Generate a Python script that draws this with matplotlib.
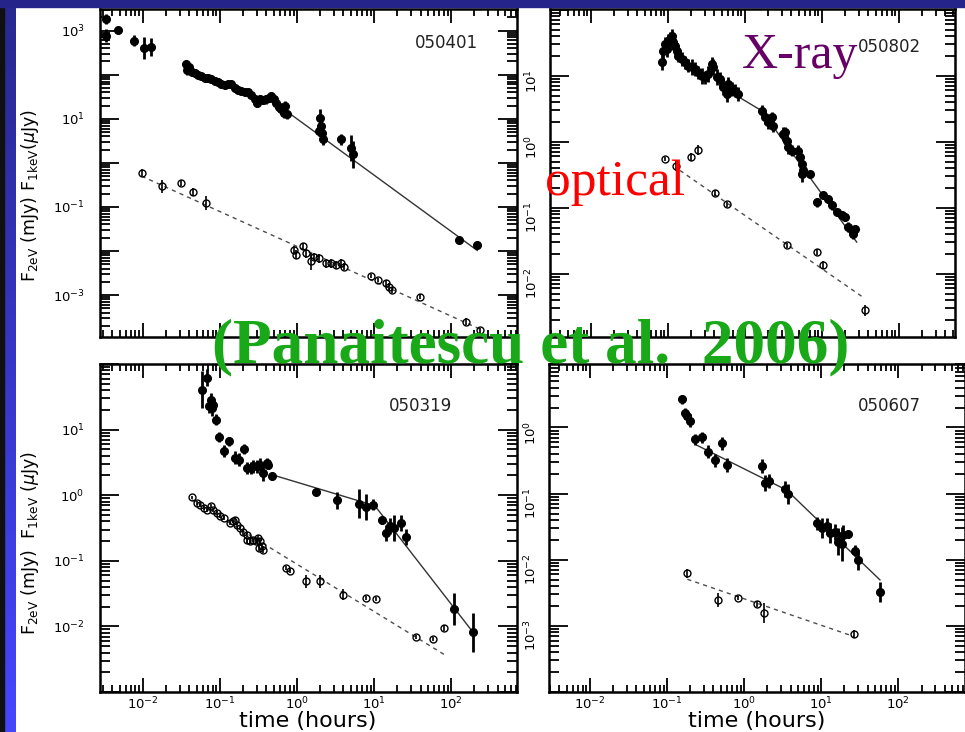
import numpy as np
import matplotlib.pyplot as plt
from matplotlib.patches import Rectangle
from matplotlib.colors import LinearSegmentedColormap
from matplotlib.ticker import LogLocator, FuncFormatter, NullFormatter

plt.rcParams['font.family'] = 'DejaVu Sans'
plt.rcParams['mathtext.fontset'] = 'dejavusans'

# ---- GRB 050401 ----
tl_x_t = [0.00332, 0.00332, 0.0048, 0.0077, 0.0103, 0.0129,
          0.036, 0.0375, 0.0397, 0.0427, 0.0471, 0.052, 0.0574, 0.0634, 0.070, 0.0773,
          0.0853, 0.0944, 0.104, 0.115, 0.127, 0.140, 0.155, 0.171, 0.189, 0.209,
          0.231, 0.255, 0.281, 0.301, 0.327, 0.361, 0.398, 0.43, 0.462, 0.496,
          0.536, 0.581, 0.622, 0.667, 0.708, 0.736,
          1.91, 1.99, 2.05, 2.11, 2.2, 3.72, 5.0, 5.26, 126, 218]
tl_x_f = [1850, 771, 1054, 592, 396, 418,
          174, 129, 147, 117, 109, 98, 91, 85, 82, 79,
          71, 67, 61, 58, 60, 61, 50, 45, 43, 41,
          39.5, 35.5, 27.8, 23.3, 28.8, 26.9, 27.8, 30.3, 33, 27.8,
          22.5, 18.9, 17.1, 13.8, 19.6, 12.7,
          5.3, 10.6, 6.9, 4.8, 3.4, 3.4, 2.2, 1.55, 0.018, 0.0138]
tl_x_e = [0.12, 0.15, 0.05, 0.12, 0.25, 0.2,
          0.1, 0.12, 0.08, 0.07, 0.06, 0.06, 0.05, 0.06, 0.05, 0.06,
          0.06, 0.05, 0.06, 0.07, 0.06, 0.05, 0.06, 0.07, 0.06, 0.06,
          0.07, 0.08, 0.1, 0.1, 0.08, 0.09, 0.1, 0.08, 0.1, 0.1,
          0.1, 0.1, 0.12, 0.12, 0.1, 0.1,
          0.12, 0.2, 0.15, 0.15, 0.12, 0.12, 0.3, 0.3, 0.05, 0.06]
tl_o_t = [0.0096, 0.0178, 0.0316, 0.044, 0.0653, 0.925, 0.973, 1.19, 1.31, 1.52,
          1.68, 1.95, 2.38, 2.76, 3.2, 3.72, 4.1, 9.1, 11.1, 14.2, 15.7, 17.3, 39, 154, 240]
tl_o_f = [0.594, 0.295, 0.352, 0.219, 0.123, 0.0106, 0.0082, 0.0127, 0.0089, 0.0058,
          0.0075, 0.0069, 0.0053, 0.0053, 0.0048, 0.0053, 0.0044, 0.0027, 0.0022, 0.0019,
          0.00156, 0.0013, 0.00092, 0.00025, 0.00016]
tl_o_e = [0.08, 0.15, 0.07, 0.1, 0.15, 0.1, 0.1, 0.08, 0.1, 0.2,
          0.08, 0.1, 0.1, 0.1, 0.1, 0.1, 0.08, 0.05, 0.05, 0.07, 0.08, 0.06, 0.06, 0.08, 0.06]
tl_xfit_t = [0.72, 218]
tl_xfit_f = [15.1, 0.0103]
tl_ofit_t = [0.0096, 253]
tl_ofit_f = [0.5, 0.00016]

# ---- GRB 050802 ----
tr_x_t = [0.0828, 0.087, 0.0914, 0.096, 0.101, 0.106, 0.112, 0.117, 0.123, 0.13,
          0.136, 0.15, 0.166, 0.184, 0.203, 0.224, 0.248, 0.274, 0.303, 0.334,
          0.369, 0.388, 0.429, 0.473, 0.524, 0.578, 0.608, 0.671, 0.741, 0.819,
          1.64, 1.82, 2.01, 2.22, 2.33, 3.15, 3.3, 3.48, 3.66, 4.04,
          4.93, 5.18, 5.44, 5.73, 5.44, 6.98, 8.53, 10.4, 12.1, 13.4,
          15.5, 18.0, 19.9, 22.0, 24.3, 26.8, 25.5]
tr_x_f = [15.9, 23.9, 30.1, 25.3, 33.9, 35.9, 40.3, 31.9, 28.4, 23.9,
          20.1, 17.9, 15.9, 14.2, 13.4, 12.6, 11.2, 10.0, 9.44, 10.6,
          15.0, 13.4, 9.44, 8.91, 6.66, 5.28, 7.48, 6.28, 5.93, 5.28,
          2.95, 2.34, 1.97, 2.34, 1.75, 1.31, 1.39, 1.04, 0.824, 0.733,
          0.733, 0.582, 0.461, 0.366, 0.325, 0.325, 0.121, 0.153, 0.136, 0.108,
          0.0855, 0.0762, 0.0719, 0.0507, 0.0452, 0.0479, 0.0403]
tr_x_e = [0.12, 0.12, 0.1, 0.12, 0.1, 0.1, 0.1, 0.12, 0.1, 0.12,
          0.1, 0.1, 0.1, 0.1, 0.12, 0.1, 0.1, 0.12, 0.1, 0.12,
          0.1, 0.12, 0.12, 0.1, 0.12, 0.12, 0.1, 0.1, 0.1, 0.1,
          0.08, 0.1, 0.1, 0.08, 0.1, 0.1, 0.08, 0.1, 0.1, 0.08,
          0.08, 0.1, 0.1, 0.1, 0.12, 0.05, 0.07, 0.05, 0.06, 0.07,
          0.06, 0.06, 0.06, 0.07, 0.07, 0.06, 0.08]
tr_o_t = [0.0914, 0.127, 0.197, 0.248, 0.407, 0.578, 3.48, 8.7, 10.4, 36.2]
tr_o_f = [0.548, 0.434, 0.581, 0.75, 0.166, 0.112, 0.0268, 0.0212, 0.0134, 0.00279]
tr_o_e = [0.03, 0.08, 0.06, 0.08, 0.04, 0.04, 0.04, 0.05, 0.06, 0.08]
tr_xfit_t = [0.843, 1.64, 28.2]
tr_xfit_f = [4.7, 2.95, 0.0301]
tr_ofit_t = [0.143, 32.7]
tr_ofit_f = [0.366, 0.00454]

# ---- GRB 050319 ----
bl_x_t = [0.058, 0.0673, 0.073, 0.0759, 0.0782, 0.0822, 0.0889, 0.0982, 0.113, 0.132,
          0.157, 0.178, 0.205, 0.222, 0.25, 0.271, 0.299, 0.33, 0.365, 0.403,
          0.424, 0.468, 1.75, 3.31, 6.38, 7.94, 9.68, 12.8, 14.4, 15.9,
          17.9, 22.5, 25.6, 110, 191]
bl_x_f = [40.7, 61.4, 22.7, 28.7, 21.4, 24.1, 14.2, 7.73, 4.67, 6.64,
          3.7, 3.49, 5.07, 2.6, 2.6, 2.76, 2.76, 2.93, 2.18, 3.1,
          2.93, 1.99, 1.11, 0.836, 0.743, 0.662, 0.717, 0.424, 0.265, 0.336,
          0.317, 0.377, 0.231, 0.0184, 0.0081]
bl_x_e = [0.28, 0.13, 0.1, 0.1, 0.12, 0.1, 0.08, 0.07, 0.09, 0.07,
          0.1, 0.1, 0.07, 0.09, 0.09, 0.1, 0.1, 0.1, 0.12, 0.07,
          0.07, 0.06, 0.03, 0.13, 0.22, 0.2, 0.08, 0.06, 0.12, 0.12,
          0.2, 0.12, 0.12, 0.25, 0.3]
bl_o_t = [0.043, 0.05, 0.0552, 0.0622, 0.0673, 0.0759, 0.0822, 0.0908, 0.1, 0.113,
          0.135, 0.146, 0.157, 0.168, 0.182, 0.201, 0.222, 0.226, 0.245, 0.271,
          0.293, 0.314, 0.33, 0.347, 0.365, 0.324, 0.716, 0.807, 1.3, 1.98,
          3.96, 7.78, 10.7, 35.2, 57.9, 79.6]
bl_o_f = [0.929, 0.762, 0.718, 0.638, 0.602, 0.678, 0.602, 0.536, 0.477, 0.45,
          0.377, 0.4, 0.424, 0.356, 0.316, 0.272, 0.25, 0.205, 0.198, 0.21,
          0.198, 0.223, 0.198, 0.166, 0.148, 0.157, 0.0776, 0.069, 0.0486, 0.0486,
          0.0304, 0.0271, 0.0261, 0.00689, 0.00641, 0.00944]
bl_o_e = [0.02, 0.03, 0.03, 0.03, 0.03, 0.03, 0.03, 0.03, 0.03, 0.03,
          0.03, 0.03, 0.04, 0.03, 0.03, 0.04, 0.04, 0.04, 0.04, 0.04,
          0.04, 0.04, 0.05, 0.05, 0.05, 0.05, 0.03, 0.03, 0.1, 0.1,
          0.08, 0.03, 0.03, 0.03, 0.03, 0.05]
bl_xfit_t = [0.468, 10.2, 191]
bl_xfit_f = [2.06, 0.693, 0.0082]
bl_ofit_t = [0.043, 82]
bl_ofit_f = [0.855, 0.0037]

# ---- GRB 050607 ----
br_x_t = [0.158, 0.171, 0.183, 0.198, 0.23, 0.281, 0.343, 0.419, 0.511, 0.593,
          1.69, 1.86, 2.12, 3.39, 3.74, 8.73, 10.1, 11.7, 13.0, 15.1,
          16.7, 18.4, 19.3, 22.4, 27.4, 30.3, 57.8]
br_x_f = [2.65, 1.63, 1.48, 1.26, 0.659, 0.706, 0.429, 0.321, 0.574, 0.27,
          0.261, 0.146, 0.155, 0.116, 0.0985, 0.0356, 0.0299, 0.0324, 0.0257, 0.0266,
          0.0188, 0.0173, 0.0237, 0.0245, 0.0137, 0.00993, 0.0033]
br_x_e = [0.07, 0.08, 0.08, 0.1, 0.08, 0.08, 0.1, 0.1, 0.1, 0.1,
          0.1, 0.12, 0.1, 0.12, 0.15, 0.1, 0.15, 0.12, 0.15, 0.12,
          0.2, 0.25, 0.15, 0.05, 0.08, 0.15, 0.15]
br_o_t = [0.183, 0.462, 0.839, 1.48, 1.81, 26.6]
br_o_f = [0.00625, 0.00247, 0.00262, 0.00215, 0.00156, 0.00076]
br_o_e = [0.07, 0.1, 0.03, 0.05, 0.15, 0.06]
br_xfit_t = [0.242, 3.56, 57.8]
br_xfit_f = [0.541, 0.113, 0.00495]
br_ofit_t = [0.183, 26.6]
br_ofit_f = [0.00507, 0.00069]

W, H = 965, 732
fig = plt.figure(figsize=(W / 100, H / 100), dpi=100)


def box(x0, y0, x1, y1):
    # pixel box, origin top-left -> figure fraction rect
    return [x0 / W, 1 - y1 / H, (x1 - x0) / W, (y1 - y0) / H]


def px(x, y):
    return x / W, 1 - y / H


# slide background pieces
strip = fig.add_axes(box(4, 0, 16, H))
grad = np.linspace(0, 1, 256).reshape(-1, 1)
strip.imshow(grad, aspect='auto', cmap=LinearSegmentedColormap.from_list('b', ['#28288e', '#4646ff']))
strip.axis('off')
fig.patches.append(Rectangle((0, 0), 4 / W, 1, transform=fig.transFigure, color='#101010'))
fig.patches.append(Rectangle((0, 1 - 7 / H), 1, 7 / H, transform=fig.transFigure, color='#24248a'))


def dec_fmt(show):
    def f(v, pos):
        k = int(round(np.log10(v)))
        return r'$10^{%d}$' % k if k in show else ''
    return FuncFormatter(f)


def draw_pts(ax, t, f, e, filled):
    t = np.array(t)
    f = np.array(f)
    e = np.array(e)
    yerr = [f - f / 10 ** e, f * 10 ** e - f]
    if filled:
        xerr = [t - t / 10 ** 0.03, t * 10 ** 0.03 - t]
        ax.errorbar(t, f, yerr=yerr, xerr=xerr, fmt='o', ms=5.5, mfc='k', mec='k',
                    ecolor='k', elinewidth=2, capsize=0, zorder=3)
    else:
        ax.errorbar(t, f, yerr=yerr, fmt='o', ms=5, mfc='none', mec='k', mew=1,
                    ecolor='k', elinewidth=1.2, capsize=0, zorder=3)


def panel(rect, xlim, ylim, xray, opt, xfit, ofit, show, rotate, xlab):
    ax = fig.add_axes(rect)
    ax.set_xscale('log')
    ax.set_yscale('log')
    ax.set_xlim(10 ** xlim[0], 10 ** xlim[1])
    ax.set_ylim(10 ** ylim[0], 10 ** ylim[1])
    ax.plot(xfit[0], xfit[1], '-', color='0.2', lw=1.0, zorder=2)
    ax.plot(ofit[0], ofit[1], color='0.3', lw=1.0, ls=(0, (3, 3)), zorder=2)
    draw_pts(ax, *xray, True)
    draw_pts(ax, *opt, False)
    for a in (ax.xaxis, ax.yaxis):
        a.set_major_locator(LogLocator(base=10, numticks=100))
        a.set_minor_locator(LogLocator(base=10, subs=np.arange(2, 10), numticks=100))
        a.set_minor_formatter(NullFormatter())
    ax.yaxis.set_major_formatter(dec_fmt(show))
    if xlab:
        ax.xaxis.set_major_formatter(dec_fmt([-2, -1, 0, 1, 2]))
    else:
        ax.xaxis.set_major_formatter(NullFormatter())
    ax.tick_params(which='both', direction='in', top=True, right=True, width=1.3, labelsize=9.5)
    ax.tick_params(axis='x', which='major', length=10, pad=2.5)
    ax.tick_params(axis='x', which='minor', length=5)
    ax.tick_params(axis='y', which='major', length=14, pad=11)
    ax.tick_params(axis='y', which='minor', length=7)
    if rotate:
        ax.tick_params(axis='y', labelrotation=90, pad=7)
    for s in ax.spines.values():
        s.set_linewidth(1.8)
    return ax


panel(box(100, 9, 517, 337), (-2.557, 2.854), (-3.95, 3.49),
      (tl_x_t, tl_x_f, tl_x_e), (tl_o_t, tl_o_f, tl_o_e),
      (tl_xfit_t, tl_xfit_f), (tl_ofit_t, tl_ofit_f), [3, 1, -1, -3], False, False)
panel(box(550, 9, 955, 337), (-2.532, 2.727), (-2.96, 2.01),
      (tr_x_t, tr_x_f, tr_x_e), (tr_o_t, tr_o_f, tr_o_e),
      (tr_xfit_t, tr_xfit_f), (tr_ofit_t, tr_ofit_f), [1, 0, -1, -2], True, False)
panel(box(100, 364, 517, 692), (-2.557, 2.854), (-3.0, 2.0),
      (bl_x_t, bl_x_f, bl_x_e), (bl_o_t, bl_o_f, bl_o_e),
      (bl_xfit_t, bl_xfit_f), (bl_ofit_t, bl_ofit_f), [1, 0, -1, -2], False, True)
panel(box(549, 364, 965, 692), (-2.532, 2.865), (-4.0, 0.96),
      (br_x_t, br_x_f, br_x_e), (br_o_t, br_o_f, br_o_e),
      (br_xfit_t, br_xfit_f), (br_ofit_t, br_ofit_f), [0, -1, -2, -3], True, True)

# burst names
for name, x, y in [('050401', 446, 43), ('050802', 889, 47), ('050319', 421, 406), ('050607', 889, 406)]:
    fig.text(*px(x, y), name, fontsize=12, color='#222222', ha='center', va='center')

# axis labels
fig.text(*px(30, 196), r'F$_{\mathrm{2eV}}$ (mJy) F$_{\mathrm{1keV}}$($\mu$Jy)',
         rotation=90, fontsize=12.5, ha='center', va='center')
fig.text(*px(30, 543), r'F$_{\mathrm{2eV}}$ (mJy)  F$_{\mathrm{1keV}}$ ($\mu$Jy)',
         rotation=90, fontsize=12.5, ha='center', va='center')
fig.text(*px(308, 721), 'time (hours)', fontsize=16, ha='center', va='center')
fig.text(*px(757, 721), 'time (hours)', fontsize=16, ha='center', va='center')

# slide annotations
fig.text(*px(742, 68), 'X-ray', fontsize=36, family='Liberation Serif', color='#660066',
         ha='left', va='baseline', zorder=10)
fig.text(*px(545, 195), 'optical', fontsize=37, family='Liberation Serif', color='#ff0000',
         ha='left', va='baseline', zorder=10)
fig.text(*px(212, 362), '(Panaitescu et al.  2006)', fontsize=45.5, family='Liberation Serif',
         weight='bold', color='#18a818', ha='left', va='baseline', zorder=10)

fig.savefig('out.png', dpi=100)
